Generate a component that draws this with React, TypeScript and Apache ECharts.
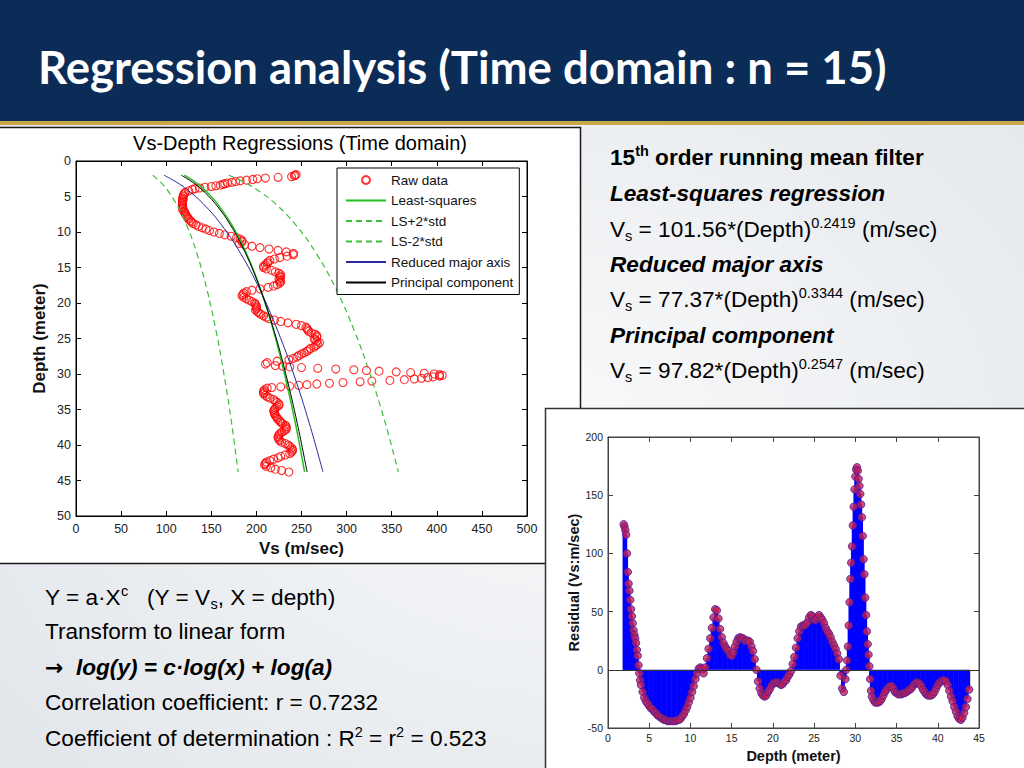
import React, { useEffect, useRef } from 'react';
import * as echarts from 'echarts';

const FONT = "'Liberation Sans', Arial, Helvetica, sans-serif";
const TITLE_FONT = "Lato, 'Open Sans', sans-serif";

// Depth of each raw sample (m)
const depthM = [
  1.9, 2.0, 2.1, 2.2, 2.3, 2.4, 2.5, 2.6, 2.7, 2.8, 2.9, 3.0, 3.1, 3.2, 3.3, 3.4, 3.5, 3.6, 3.7, 3.8, 3.9, 4.0,
  4.2, 4.4, 4.6, 4.8, 5.0, 5.2, 5.4, 5.6, 5.8, 6.0,
  6.2, 6.4, 6.6, 6.8, 7.0, 7.2, 7.4, 7.6, 7.8, 8.0,
  8.2, 8.4, 8.6, 8.8, 9.0, 9.2, 9.4, 9.6, 9.8, 10.0,
  10.2, 10.4, 10.6, 10.8, 11.0, 11.2, 11.4, 11.6, 11.8, 12.0,
  12.2, 12.4, 12.6, 12.8, 13.0, 13.2, 13.4, 13.6, 13.8, 14.0,
  14.2, 14.4, 14.6, 14.8, 15.0, 15.2, 15.4, 15.6, 15.8, 16.0,
  16.2, 16.4, 16.6, 16.8, 17.0, 17.2, 17.4, 17.6, 17.8, 18.0,
  18.2, 18.4, 18.6, 18.8, 19.0, 19.2, 19.4, 19.6, 19.8, 20.0,
  20.2, 20.4, 20.6, 20.8, 21.0, 21.2, 21.4, 21.6, 21.8, 22.0,
  22.2, 22.4, 22.6, 22.8, 23.0, 23.2, 23.4, 23.6, 23.8, 24.0,
  24.2, 24.4, 24.6, 24.8, 25.0, 25.2, 25.4, 25.6, 25.8, 26.0,
  26.2, 26.4, 26.6, 26.8, 27.0, 27.2, 27.4, 27.6, 27.8, 28.0,
  28.2, 28.4, 28.6, 28.8,
  28.9, 29.0, 29.1, 29.2, 29.3, 29.4, 29.5, 29.6, 29.7, 29.8, 29.9, 30.0, 30.1, 30.2, 30.3, 30.4,
  30.5, 30.6, 30.7, 30.8, 30.9, 31.0, 31.1, 31.2, 31.3, 31.4, 31.5, 31.6, 31.7, 31.8, 31.9, 32.0,
  32.2, 32.4, 32.6, 32.8, 33.0, 33.2, 33.4, 33.6, 33.8, 34.0,
  34.2, 34.4, 34.6, 34.8, 35.0, 35.2, 35.4, 35.6, 35.8, 36.0,
  36.2, 36.4, 36.6, 36.8, 37.0, 37.2, 37.4, 37.6, 37.8, 38.0,
  38.2, 38.4, 38.6, 38.8, 39.0, 39.2, 39.4, 39.6, 39.8, 40.0,
  40.2, 40.4, 40.6, 40.8, 41.0, 41.2, 41.4, 41.6, 41.8, 42.0,
  42.2, 42.4, 42.6, 42.8, 43.0, 43.2, 43.4, 43.6, 43.8,
];

// Raw Vs (m/sec) at each depth
const rawVs = [
  244, 243, 242, 239, 224, 210, 201, 196, 189, 182, 177, 173, 168, 165, 163, 160, 155, 150, 143, 137, 132, 129,
  125, 121, 120, 119, 119, 118, 119, 118, 118, 118,
  118, 118, 118, 118, 120, 120, 121, 122, 123, 124,
  125, 127, 128, 130, 133, 136, 140, 144, 148, 153,
  159, 165, 172, 178, 182, 184, 184, 181, 187, 195,
  204, 214, 224, 233, 241, 241, 234, 226, 220, 215,
  213, 212, 210, 208, 208, 211, 217, 221, 225, 227,
  226, 227, 225, 226, 227, 226, 223, 219, 213, 204,
  195, 189, 186, 185, 184, 186, 189, 192, 195, 198,
  199, 200, 200, 200, 199, 201, 203, 205, 208, 211,
  214, 220, 227, 235, 244, 250, 255, 256, 257, 258,
  261, 265, 267, 267, 264, 265, 267, 270, 268, 266,
  264, 260, 258, 256, 253, 250, 247, 245, 241, 236,
  223, 212, 210, 221,
  229, 237, 250, 268, 288, 308, 322, 336, 355, 371, 386, 397, 403, 406, 403, 396,
  390, 383, 375, 364, 348, 328, 315, 296, 281, 267, 256, 247, 237, 227, 217, 212,
  209, 208, 208, 208, 210, 212, 215, 219, 221, 223,
  225, 225, 223, 221, 220, 219, 220, 220, 221, 222,
  223, 224, 226, 227, 229, 232, 233, 233, 233, 231,
  228, 226, 225, 224, 224, 225, 226, 228, 232, 235,
  237, 239, 240, 240, 239, 237, 232, 227, 224, 219,
  215, 211, 210, 209, 211, 216, 221, 228, 236,
];

// Residual (Vs, m/sec) at each depth
const residualVs = [
  125, 123, 120, 116, 100, 84, 74, 68, 60, 52, 46, 40, 34, 30, 27, 23, 17, 12, 4, -3, -9, -13,
  -19, -24, -27, -29, -31, -33, -34, -36, -37, -39,
  -40, -41, -42, -43, -43, -44, -44, -44, -44, -44,
  -44, -43, -43, -42, -40, -38, -35, -32, -28, -24,
  -19, -14, -8, -3, 1, 2, 1, -3, 2, 10,
  18, 27, 36, 45, 52, 51, 44, 35, 28, 23,
  20, 18, 16, 13, 12, 15, 20, 24, 27, 28,
  27, 27, 25, 25, 25, 24, 20, 16, 9, 0,
  -10, -16, -20, -22, -23, -22, -19, -17, -14, -12,
  -11, -11, -11, -12, -13, -12, -10, -9, -6, -4,
  -1, 5, 11, 19, 27, 33, 37, 38, 38, 39,
  41, 45, 47, 46, 43, 43, 45, 47, 45, 43,
  40, 36, 33, 31, 28, 24, 21, 18, 14, 9,
  -5, -16, -19, -8,
  0, 8, 20, 38, 58, 78, 92, 106, 124, 140, 155, 166, 172, 174, 171, 164,
  158, 151, 142, 131, 115, 95, 82, 62, 47, 33, 22, 13, 3, -8, -18, -23,
  -26, -28, -28, -28, -27, -25, -22, -19, -17, -15,
  -14, -14, -16, -19, -20, -21, -21, -21, -20, -20,
  -19, -18, -17, -16, -14, -12, -11, -11, -12, -14,
  -17, -19, -21, -22, -22, -22, -21, -19, -16, -13,
  -11, -10, -9, -9, -10, -13, -18, -23, -27, -32,
  -36, -40, -42, -43, -41, -37, -32, -25, -17,
];

// Regression curves (Vs at the listed depths)
const curveDepth = [2, 3, 4, 6, 9, 13, 18, 24, 30, 37, 43.8];
const lsVs = [120.1, 132.5, 142.0, 156.7, 172.8, 188.9, 204.4, 219.1, 231.2, 243.3, 253.4];
const lsPlusVs = [169.3, 186.8, 200.2, 220.9, 243.6, 266.3, 288.2, 308.9, 326.0, 343.1, 357.3];
const lsMinusVs = [85.2, 94.0, 100.7, 111.1, 122.6, 134.0, 145.0, 155.4, 164.0, 172.6, 179.7];
const rmaVs = [97.5, 111.7, 123.0, 140.9, 161.3, 182.4, 203.4, 223.9, 241.3, 258.8, 273.8];
const pcVs = [116.7, 129.4, 139.2, 154.4, 171.2, 188.0, 204.2, 219.8, 232.6, 245.4, 256.2];

const legendNames = ['Raw data', 'Least-squares', 'LS+2*std', 'LS-2*std', 'Reduced major axis', 'Principal component'];

const slideTitle = 'Regression analysis (Time domain : n = 15)';
const chartTitle = 'Vs-Depth Regressions (Time domain)';

const rightLines = [
  '{b|15}{bsup|th}{b| order running mean filter}',
  '{bi|Least-squares regression}',
  '{n|V}{sub|s}{n| = 101.56*(Depth)}{sup|0.2419}{n| (m/sec)}',
  '{bi|Reduced major axis}',
  '{n|V}{sub|s}{n| = 77.37*(Depth)}{sup|0.3344}{n| (m/sec)}',
  '{bi|Principal component}',
  '{n|V}{sub|s}{n| = 97.82*(Depth)}{sup|0.2547}{n| (m/sec)}',
];
const rightLineY = [157, 193, 229, 264, 299, 335, 370];

const leftLines = [
  '{n|Y = a·X}{sup|c}{n|   (Y = V}{sub|s}{n|, X = depth)}',
  '{n|Transform to linear form}',
  '{arr|→}{bi|  log(y) = c·log(x) + log(a)}',
  '{n|Correlation coefficient: r = 0.7232}',
  '{n|Coefficient of determination : R}{sup|2}{n| = r}{sup|2}{n| = 0.523}',
];
const leftLineY = [597, 631, 667, 702, 738];

const BODY = 22.6;
const SMALL = 14.5;
const rich = {
  n: { fontFamily: FONT, fontSize: BODY, fill: '#000', lineHeight: 28 },
  b: { fontFamily: FONT, fontSize: BODY, fontWeight: 'bold', fill: '#000', lineHeight: 28 },
  bi: { fontFamily: FONT, fontSize: BODY, fontWeight: 'bold', fontStyle: 'italic', fill: '#000', lineHeight: 28 },
  arr: { fontFamily: "'DejaVu Sans', sans-serif", fontSize: 22, fontWeight: 'bold', fill: '#000', lineHeight: 28 },
  sup: { fontFamily: FONT, fontSize: SMALL, fill: '#000', lineHeight: 15, verticalAlign: 'top' },
  bsup: { fontFamily: FONT, fontSize: SMALL, fontWeight: 'bold', fill: '#000', lineHeight: 15, verticalAlign: 'top' },
  sub: { fontFamily: FONT, fontSize: SMALL, fill: '#000', lineHeight: 19, verticalAlign: 'bottom' },
};

function baseAxis(gridIndex: number, min: number, max: number, interval: number, fontSize: number, color: string) {
  return {
    type: 'value',
    gridIndex,
    min,
    max,
    interval,
    axisLine: { show: true, onZero: false, lineStyle: { color, width: 1 } },
    axisTick: { show: true, inside: true, length: 5, lineStyle: { color } },
    axisLabel: { show: true, fontSize, color: '#222', fontFamily: FONT, margin: 5 },
    splitLine: { show: false },
  };
}

function textEl(x: number, y: number, text: string) {
  return {
    type: 'text',
    x,
    y,
    z: 10,
    silent: true,
    style: {
      text,
      rich,
      fontFamily: FONT,
      fontSize: BODY,
      fill: '#000',
      verticalAlign: 'middle',
      textVerticalAlign: 'middle',
      align: 'left',
    },
  };
}

export default function App() {
  const ref = useRef<HTMLDivElement>(null);

  useEffect(() => {
    if (!ref.current) return;
    const chart = echarts.init(ref.current, null, { renderer: 'svg', width: 1024, height: 768 });

    const rawPoints = depthM.map((d, i) => [rawVs[i], d]);
    const resPoints = depthM.map((d, i) => [d, residualVs[i]]);
    const curve = (vs: number[]) => curveDepth.map((d, i) => [vs[i], d]);

    const nameStyle = (size: number) => ({ fontSize: size, fontWeight: 'bold', color: '#111', fontFamily: FONT });
    const clear = 'rgba(0,0,0,0)';
    const lineSeries = (name: string, vs: number[], color: string, width: number, dashed: boolean) => ({
      type: 'line',
      name,
      xAxisIndex: 0,
      yAxisIndex: 0,
      data: curve(vs),
      symbol: 'none',
      smooth: 0.4,
      itemStyle: { color: clear, borderWidth: 0 },
      lineStyle: { color, width, type: dashed ? [6, 4] : 'solid' },
      z: 3,
    });

    const option: any = {
      animation: false,
      grid: [
        { left: 76, top: 161, width: 451, height: 355, show: true, borderColor: '#000', borderWidth: 1, backgroundColor: '#fff' },
        { left: 608, top: 437, width: 371, height: 291, show: true, borderColor: '#444', borderWidth: 1, backgroundColor: '#fff' },
      ],
      xAxis: [
        {
          ...baseAxis(0, 0, 500, 50, 12.5, '#000'),
          position: 'bottom',
          name: 'Vs (m/sec)',
          nameLocation: 'middle',
          nameGap: 24,
          nameTextStyle: nameStyle(17),
          axisLabel: { show: true, fontSize: 12.5, color: '#222', fontFamily: FONT, margin: 6 },
        },
        { ...baseAxis(0, 0, 500, 50, 12.5, '#000'), position: 'top', axisLabel: { show: false } },
        {
          ...baseAxis(1, 0, 45, 5, 10.5, '#444'),
          position: 'bottom',
          name: 'Depth (meter)',
          nameLocation: 'middle',
          nameGap: 20,
          nameTextStyle: nameStyle(14.5),
          axisLabel: { show: true, fontSize: 10.5, color: '#222', fontFamily: FONT, margin: 4 },
        },
        { ...baseAxis(1, 0, 45, 5, 10.5, '#444'), position: 'top', axisLabel: { show: false } },
      ],
      yAxis: [
        {
          ...baseAxis(0, 0, 50, 5, 12.5, '#000'),
          inverse: true,
          position: 'left',
          name: 'Depth (meter)',
          nameLocation: 'middle',
          nameGap: 28,
          nameRotate: 90,
          nameTextStyle: nameStyle(17),
          axisLabel: { show: true, fontSize: 12.5, color: '#222', fontFamily: FONT, margin: 5 },
        },
        { ...baseAxis(0, 0, 50, 5, 12.5, '#000'), inverse: true, position: 'right', axisLabel: { show: false } },
        {
          ...baseAxis(1, -50, 200, 50, 10.5, '#444'),
          position: 'left',
          name: 'Residual (Vs:m/sec)',
          nameLocation: 'middle',
          nameGap: 26,
          nameRotate: 90,
          nameTextStyle: nameStyle(14.5),
          axisLabel: { show: true, fontSize: 10.5, color: '#222', fontFamily: FONT, margin: 5 },
        },
        { ...baseAxis(1, -50, 200, 50, 10.5, '#444'), position: 'right', axisLabel: { show: false } },
      ],
      legend: {
        data: legendNames,
        orient: 'vertical',
        left: 337,
        top: 168,
        itemWidth: 40,
        itemHeight: 8,
        itemGap: 6.5,
        padding: [5, 6, 5, 8],
        backgroundColor: '#fff',
        borderColor: '#000',
        borderWidth: 1,
        borderRadius: 0,
        selectedMode: false,
        textStyle: { fontSize: 13.5, color: '#111', fontFamily: FONT },
      },
      series: [
        {
          type: 'scatter',
          name: 'Raw data',
          xAxisIndex: 0,
          yAxisIndex: 0,
          data: rawPoints,
          symbol: 'circle',
          symbolSize: 8,
          itemStyle: { color: 'rgba(255,255,255,0)', borderColor: '#ff0000', borderWidth: 1.1 },
          z: 2,
        },
        lineSeries('Least-squares', lsVs, '#22c022', 1.5, false),
        lineSeries('LS+2*std', lsPlusVs, '#3cbf3c', 1.2, true),
        lineSeries('LS-2*std', lsMinusVs, '#3cbf3c', 1.2, true),
        lineSeries('Reduced major axis', rmaVs, '#2a2a9a', 1, false),
        lineSeries('Principal component', pcVs, '#000000', 1, false),
        {
          type: 'custom',
          name: 'Residual stems',
          xAxisIndex: 2,
          yAxisIndex: 2,
          data: resPoints,
          encode: { x: 0, y: 1 },
          renderItem: (params: any, api: any) => {
            const x = api.value(0);
            const y = api.value(1);
            const a = api.coord([x, 0]);
            const b = api.coord([x, y]);
            return {
              type: 'line',
              shape: { x1: a[0], y1: a[1], x2: b[0], y2: b[1] },
              style: { stroke: '#0000ff', lineWidth: 2.2 },
            };
          },
          z: 2,
        },
        {
          type: 'scatter',
          name: 'Residual',
          xAxisIndex: 2,
          yAxisIndex: 2,
          data: resPoints,
          symbol: 'circle',
          symbolSize: 7.5,
          itemStyle: { color: '#c41f55', borderColor: '#4a1f9a', borderWidth: 1 },
          markLine: {
            silent: true,
            symbol: ['none', 'none'],
            label: { show: false },
            lineStyle: { color: '#333', width: 1, type: 'solid' },
            data: [{ yAxis: 0 }],
          },
          z: 3,
        },
      ],
      graphic: {
        elements: [
          {
            type: 'rect',
            z: -20,
            silent: true,
            shape: { x: 0, y: 0, width: 1024, height: 768 },
            style: {
              fill: new echarts.graphic.RadialGradient(0.55, 0.55, 0.8, [
                { offset: 0, color: '#f8f9fa' },
                { offset: 1, color: '#dfe3e8' },
              ]),
            },
          },
          { type: 'rect', z: -10, silent: true, shape: { x: 0, y: 0, width: 1024, height: 121 }, style: { fill: '#0b2c57' } },
          { type: 'rect', z: -10, silent: true, shape: { x: 0, y: 121, width: 1024, height: 4 }, style: { fill: '#c9a748' } },
          {
            type: 'rect',
            z: -10,
            silent: true,
            shape: { x: -1, y: 127.5, width: 581.5, height: 436 },
            style: { fill: '#ffffff', stroke: '#1a1a1a', lineWidth: 1.5 },
          },
          {
            type: 'rect',
            z: -9,
            silent: true,
            shape: { x: 545.5, y: 408.5, width: 480, height: 361 },
            style: { fill: '#ffffff', stroke: '#333', lineWidth: 1.5 },
          },
          {
            type: 'text',
            x: 38,
            y: 66,
            z: 10,
            silent: true,
            style: {
              text: slideTitle,
              fill: '#ffffff',
              fontSize: 45.5,
              fontWeight: 'bold',
              fontFamily: TITLE_FONT,
              verticalAlign: 'middle',
              textVerticalAlign: 'middle',
              shadowColor: 'rgba(0,0,0,0.8)',
              shadowBlur: 3,
              shadowOffsetX: 2,
              shadowOffsetY: 2,
            },
          },
          {
            type: 'text',
            x: 300,
            y: 143,
            z: 10,
            silent: true,
            style: {
              text: chartTitle,
              fill: '#000',
              fontSize: 20,
              fontFamily: FONT,
              align: 'center',
              textAlign: 'center',
              verticalAlign: 'middle',
              textVerticalAlign: 'middle',
            },
          },
          ...rightLines.map((t, i) => textEl(610, rightLineY[i], t)),
          ...leftLines.map((t, i) => textEl(45, leftLineY[i], t)),
        ],
      },
    };

    chart.setOption(option);
    return () => chart.dispose();
  }, []);

  return <div ref={ref} style={{ position: 'absolute', left: 0, top: 0, width: 1024, height: 768 }} />;
}
